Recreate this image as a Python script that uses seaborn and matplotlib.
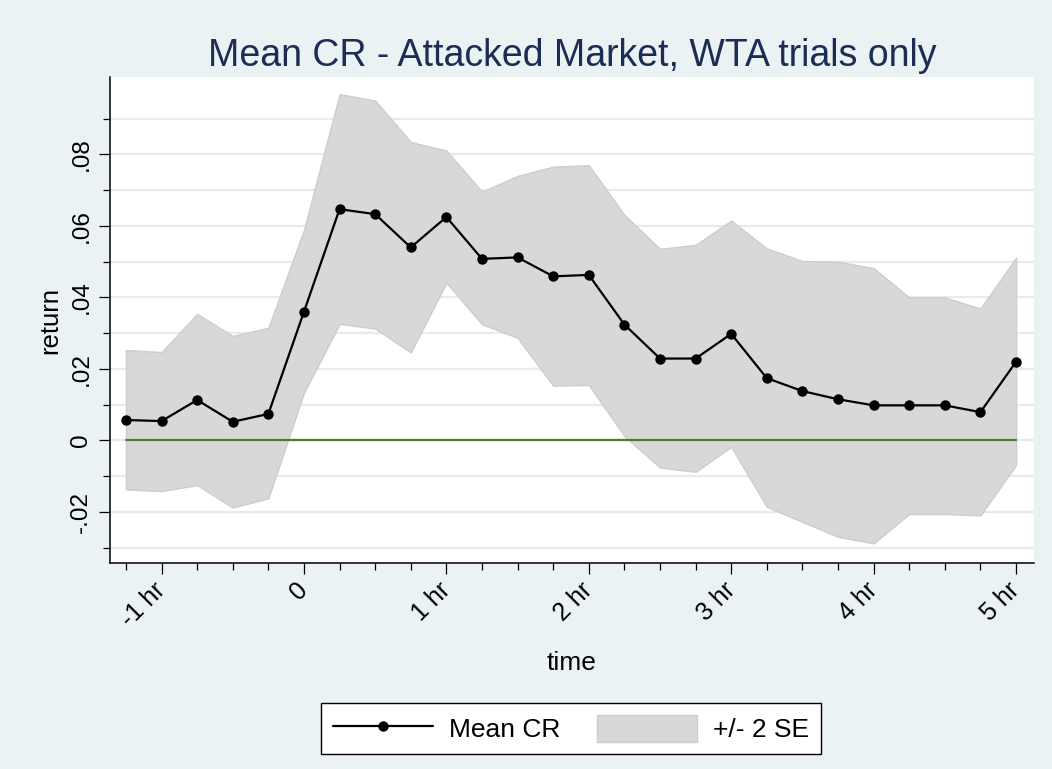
import numpy as np
import pandas as pd
import matplotlib
matplotlib.use("Agg")
import matplotlib.pyplot as plt
import seaborn as sns
from matplotlib.lines import Line2D
from matplotlib.patches import Patch

# ---------------- data ----------------
times = [-1.25, -1.0, -0.75, -0.5, -0.25, 0.0, 0.25, 0.5, 0.75, 1.0, 1.25, 1.5, 1.75,
         2.0, 2.25, 2.5, 2.75, 3.0, 3.25, 3.5, 3.75, 4.0, 4.25, 4.5, 4.75, 5.0]
mean_cr = [0.0057, 0.0054, 0.0113, 0.0052, 0.0074, 0.0360, 0.0647, 0.0633, 0.0540,
           0.0625, 0.0508, 0.0512, 0.0459, 0.0463, 0.0324, 0.0229, 0.0229, 0.0298,
           0.0174, 0.0138, 0.0115, 0.0098, 0.0098, 0.0098, 0.0079, 0.0220]
upper_2se = [0.0253, 0.0247, 0.0354, 0.0292, 0.0315, 0.0589, 0.0969, 0.0951, 0.0835,
             0.0811, 0.0696, 0.0740, 0.0766, 0.0770, 0.0631, 0.0536, 0.0547, 0.0615,
             0.0537, 0.0502, 0.0500, 0.0482, 0.0400, 0.0400, 0.0369, 0.0511]
lower_2se = [-0.0137, -0.0142, -0.0125, -0.0188, -0.0162, 0.0133, 0.0326, 0.0313, 0.0246,
             0.0441, 0.0325, 0.0287, 0.0153, 0.0155, 0.0012, -0.0076, -0.0088, -0.0018,
             -0.0186, -0.0228, -0.0270, -0.0288, -0.0206, -0.0206, -0.0210, -0.0069]

xtick_values = [-1, 0, 1, 2, 3, 4, 5]
xtick_labels = ["-1 hr", "0", "1 hr", "2 hr", "3 hr", "4 hr", "5 hr"]
xminor_values = [-1.25, -0.75, -0.5, -0.25, 0.25, 0.5, 0.75, 1.25, 1.5, 1.75, 2.25, 2.5,
                 2.75, 3.25, 3.5, 3.75, 4.25, 4.5, 4.75]
ytick_values = [-0.02, 0.0, 0.02, 0.04, 0.06, 0.08]
ytick_labels = ["-.02", "0", ".02", ".04", ".06", ".08"]
yminor_values = [-0.03, -0.01, 0.01, 0.03, 0.05, 0.07, 0.09]

title = "Mean CR - Attacked Market, WTA trials only"
series_labels = ["Mean CR", "+/- 2 SE"]

# ---------------- style ----------------
BG = "#EAF2F3"
GRID = "#E3ECEE"
BAND = "#D8D8D8"
BAND_EDGE = "#CDCDCD"
GREEN = "#557A2E"
TITLE_C = "#1C2C54"

sns.set_style("white")
plt.rcParams["font.family"] = ["Liberation Sans", "DejaVu Sans"]
plt.rcParams["text.color"] = "black"
plt.rcParams["axes.labelcolor"] = "black"
plt.rcParams["xtick.color"] = "black"
plt.rcParams["ytick.color"] = "black"

fig = plt.figure(figsize=(10.52, 7.69), dpi=100)
fig.patch.set_facecolor(BG)
W, H = 1052, 769
left, right, top, bottom = 110, 1034, 77.3, 563.3
ax = fig.add_axes([left / W, 1 - bottom / H, (right - left) / W, (bottom - top) / H])
ax.set_facecolor("white")

df = pd.DataFrame({"time": times, "mean": mean_cr, "lo": lower_2se, "hi": upper_2se})

ax.fill_between(df["time"], df["lo"], df["hi"], facecolor=BAND, edgecolor=BAND_EDGE,
                linewidth=1.0, zorder=1)
sns.lineplot(x=df["time"], y=np.zeros(len(df)), color=GREEN, linewidth=1.6, ax=ax,
             zorder=2, legend=False)
sns.lineplot(data=df, x="time", y="mean", color="black", linewidth=1.6, marker="o",
             markersize=7.5, markeredgewidth=0, ax=ax, zorder=4, legend=False)

ax.set_xlim(-1.362, 5.126)
ax.set_ylim(-0.0344, 0.1016)

ax.set_xticks(xtick_values)
ax.set_xticklabels(xtick_labels, rotation=45, ha="right", va="center",
                   rotation_mode="anchor", fontsize=18)
ax.set_xticks(xminor_values, minor=True)
ax.set_yticks(ytick_values)
ax.set_yticklabels(ytick_labels, rotation=90, va="center", fontsize=17.5)
ax.set_yticks(yminor_values, minor=True)

ax.tick_params(axis="both", which="major", direction="out", length=7.7, width=0.9,
               color="black", labelcolor="black", bottom=True, left=True)
ax.tick_params(axis="both", which="minor", direction="out", length=5, width=0.9,
               color="black", bottom=True, left=True)
ax.tick_params(axis="x", which="major", pad=9)
ax.tick_params(axis="y", which="major", pad=5)

ax.yaxis.grid(True, which="both", color=GRID, linewidth=1.6, zorder=0)
ax.xaxis.grid(False)
ax.set_axisbelow(True)

for s in ["top", "right"]:
    ax.spines[s].set_visible(False)
for s in ["left", "bottom"]:
    ax.spines[s].set_color("black")
    ax.spines[s].set_linewidth(1.1)

ax.set_xlabel("time", fontsize=19, labelpad=14, color="black")
ax.set_ylabel("return", fontsize=18.5, labelpad=6, color="black")
ax.set_title(title, fontsize=27, color=TITLE_C, pad=8)

handles = [Line2D([], [], color="black", linewidth=1.6, marker="o", markersize=7.5,
                  markeredgewidth=0),
           Patch(facecolor=BAND, edgecolor=BAND_EDGE, linewidth=1.0)]
leg = fig.legend(handles, series_labels, loc="center",
                 bbox_to_anchor=(571 / W, 1 - 728.5 / H), ncol=2, frameon=True,
                 fancybox=False, edgecolor="black", facecolor="white", fontsize=19,
                 handlelength=3.8, handleheight=1.25, handletextpad=0.6,
                 columnspacing=1.4, borderpad=0.45, framealpha=1)
leg.get_frame().set_linewidth(1.0)
for t in leg.get_texts():
    t.set_color("black")

fig.savefig("out.png", dpi=100, facecolor=BG)
